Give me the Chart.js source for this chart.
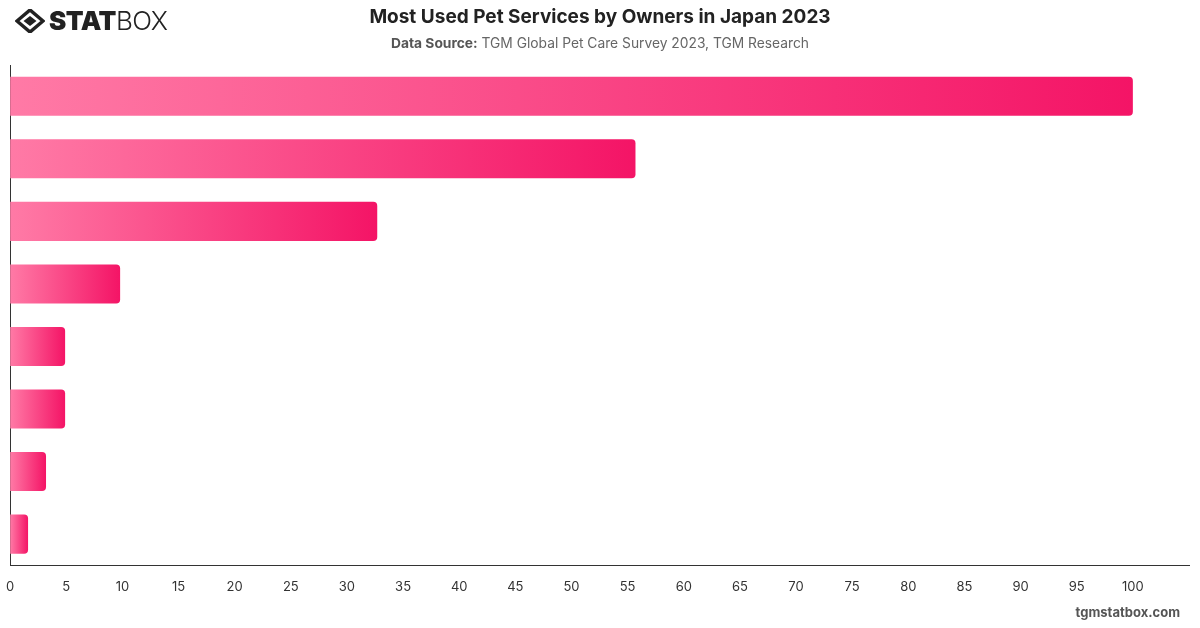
<!DOCTYPE html>
<html>
<head>
<meta charset="utf-8">
<script src="https://cdn.jsdelivr.net/npm/chart.js@4.4.0/dist/chart.umd.min.js"></script>
<style>
  html, body { margin: 0; padding: 0; background: #fff; }
  body { width: 1200px; height: 628px; position: relative; overflow: hidden; font-family: Inter, "Noto Sans", sans-serif; }
  #wrap { position: absolute; left: 0; top: 0; width: 1200px; height: 628px; }
  .logo { position: absolute; left: 15px; top: 7px; display: flex; align-items: center; }
  .logo span { font-size: 26px; color: #222; letter-spacing: -0.5px; line-height: 28px; }
  .logo .stat { font-weight: 900; }
  .logo .box { font-weight: 300; }
  .title { position: absolute; left: 0; width: 1200px; top: 5px; text-align: center; font-size: 19px; font-weight: 700; color: #222; }
  .sub { position: absolute; left: 0; width: 1200px; top: 35px; text-align: center; font-size: 13.8px; color: #666; }
  .sub b { color: #555; }
  .foot { position: absolute; right: 20px; top: 604px; font-size: 13px; font-weight: 700; color: #555; }
</style>
</head>
<body>
<div id="wrap"><canvas id="chart"></canvas></div>
<div class="logo">
  <svg width="30" height="24" viewBox="0 0 30 24">
    <polygon points="15,1 28,12 15,23 2,12" fill="none" stroke="#222" stroke-width="3.5"/>
    <polygon points="15,7 21.5,12 15,17 8.5,12" fill="#222"/>
  </svg>
  <span class="stat" style="margin-left:4px">STAT</span><span class="box">BOX</span>
</div>
<div class="title">Most Used Pet Services by Owners in Japan 2023</div>
<div class="sub"><b>Data Source:</b> TGM Global Pet Care Survey 2023, TGM Research</div>
<div class="foot">tgmstatbox.com</div>
<script>
const categories = ['Veterinary care', 'Grooming', 'Pet hotel', 'Pet insurance', 'Training', 'Pet sitting', 'Dog walking', 'Daycare'];
const values = [100, 55.7, 32.7, 9.8, 4.9, 4.9, 3.2, 1.6];

function barGradient(ctx) {
    const chart = ctx.chart;
    if (!chart.chartArea || ctx.type !== 'data') return '#f5166a';
    const xs = chart.scales.x;
    const x0 = xs.getPixelForValue(0);
    const x1 = xs.getPixelForValue(ctx.raw);
    const g = chart.ctx.createLinearGradient(x0, 0, Math.max(x1, x0 + 1), 0);
    g.addColorStop(0, 'rgb(255,122,166)');
    g.addColorStop(1, 'rgb(244,20,102)');
    return g;
}

new Chart(document.getElementById('chart'), {
    type: 'bar',
    data: {
        labels: categories,
        datasets: [{
            data: values,
            backgroundColor: barGradient,
            borderRadius: 4,
            borderSkipped: 'start',
            categoryPercentage: 1,
            barPercentage: 0.625
        }]
    },
    options: {
        indexAxis: 'y',
        responsive: true,
        maintainAspectRatio: false,
        animation: false,
        layout: { padding: { top: 65, left: 2, right: 11, bottom: 27 } },
        plugins: {
            legend: { display: false },
            tooltip: { enabled: false }
        },
        scales: {
            x: {
                min: 0,
                max: 105,
                grid: { display: false },
                border: { display: true, color: '#333', width: 1 },
                ticks: {
                    stepSize: 5,
                    color: '#333',
                    padding: 6,
                    font: { size: 13, family: 'Inter' },
                    callback: v => v > 100 ? '' : v
                }
            },
            y: {
                grid: { display: false },
                border: { display: true, color: '#333', width: 1 },
                ticks: { display: false }
            }
        }
    }
});
</script>
</body>
</html>
